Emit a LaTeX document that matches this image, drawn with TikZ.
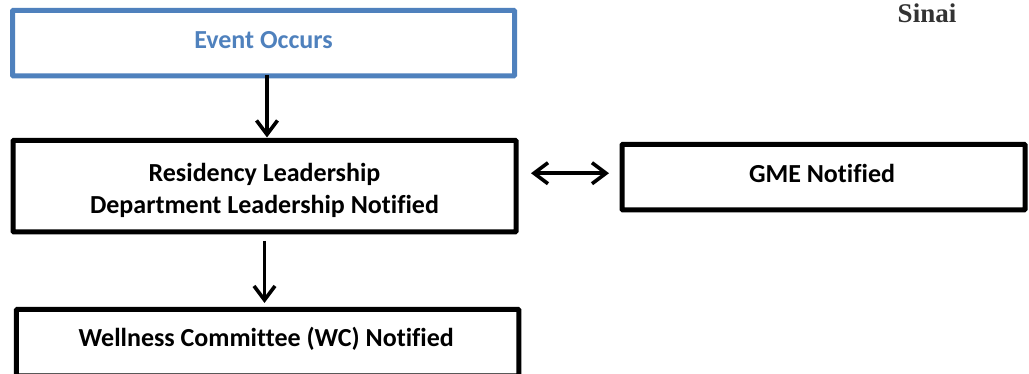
\documentclass[tikz,border=0pt]{standalone}
\usepackage{fontspec}
\setmainfont[Ligatures=NoCommon]{Carlito}
\newfontfamily\sinaifont{Liberation Serif}
\usetikzlibrary{arrows.meta}
\definecolor{evblue}{HTML}{4F81BD}
\tikzset{
  flowbox/.style={draw=black,line width=5pt,fill=white,rectangle,rounded corners=0.8pt,inner sep=0pt,outer sep=0pt,align=center,
    font=\fontsize{26}{32.5}\selectfont\bfseries,text=black},
  flowarrow/.style={draw=black,line width=3.6pt,{Straight Barb[length=14pt,width=21pt,line width=3.6pt]}-{Straight Barb[length=14pt,width=21pt,line width=3.6pt]}},
  downarrow/.style={draw=black,line width=3.6pt,-{Straight Barb[length=14pt,width=21pt,line width=3.6pt]}}
}
\begin{document}
\begin{tikzpicture}[x=1pt,y=-1pt]
\useasboundingbox (0,0) rectangle (1029,373);
\clip (0,0) rectangle (1029,373);
\fill[white] (0,0) rectangle (1029,373);
\node[flowbox,draw=evblue,text=evblue,minimum width=502pt,minimum height=65.5pt] (event) at (263.5,43.2) {\raisebox{-5.1pt}[0pt][0pt]{Event Occurs}};
\node[flowbox,minimum width=503pt,minimum height=91.5pt] (lead) at (264.5,186.2) {\rule{0pt}{27pt}Residency Leadership\\Department Leadership Notified};
\node[flowbox,minimum width=403pt,minimum height=65.5pt] (gme) at (823.5,177.2) {\raisebox{-5.5pt}[0pt][0pt]{\hspace*{-3pt}GME Notified}};
\node[flowbox,minimum width=502.5pt,minimum height=66.5pt] (well) at (267.7,342.7) {\raisebox{-4pt}[0pt][0pt]{\hspace*{-3pt}Wellness Committee (WC) Notified}};
\node[font=\fontsize{27}{30}\selectfont\bfseries,text=black!80,inner sep=0pt] (sinai) at (927,13) {\sinaifont Sinai};
\draw[downarrow] ([xshift=3.5pt,yshift=1pt]event.south) -- ([xshift=3.5pt,yshift=3pt]event.south |- lead.north);
\draw[downarrow] ([yshift=-9pt]lead.south) -- ([yshift=6.5pt]lead.south |- well.north);
\draw[flowarrow] ([xshift=15pt,yshift=13pt]lead.east) -- ([xshift=-13pt,yshift=13pt]lead.east -| gme.west);
\end{tikzpicture}
\end{document}
